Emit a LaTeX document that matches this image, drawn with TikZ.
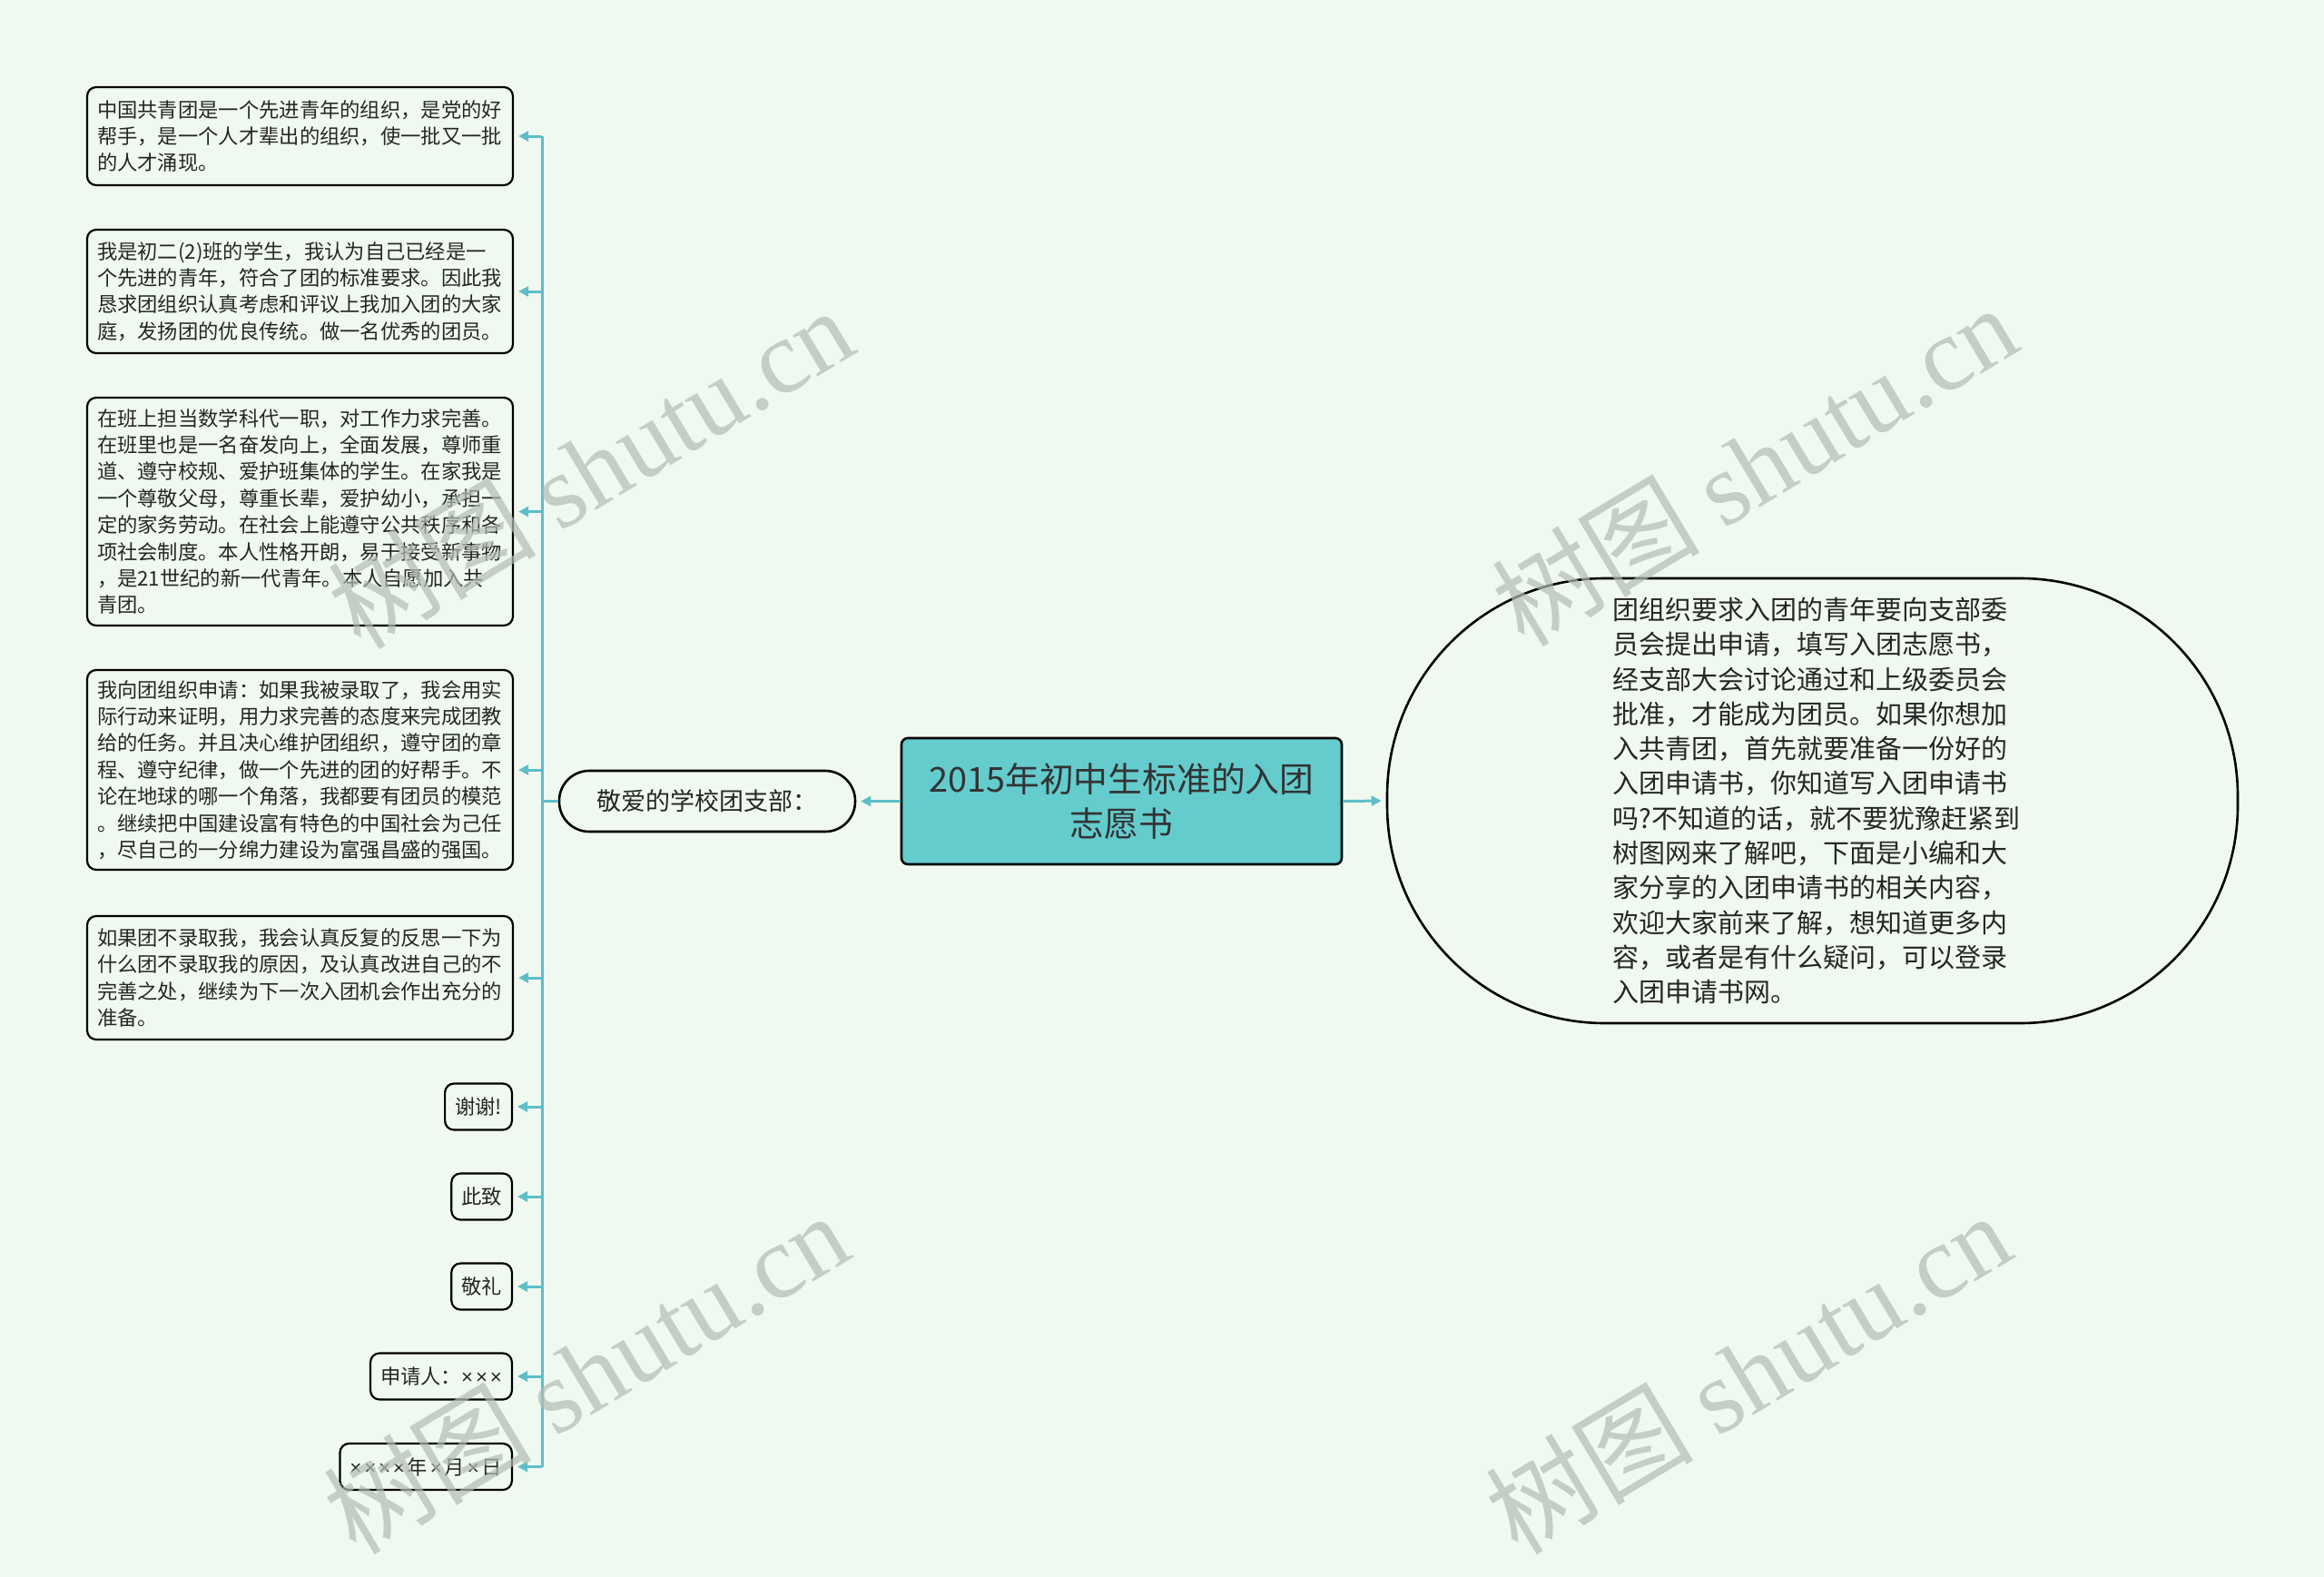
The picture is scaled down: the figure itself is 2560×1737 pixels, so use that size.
\documentclass[tikz,border=0pt]{standalone}
\usepackage{fontspec}
\setmainfont{Noto Sans CJK SC}
\newfontfamily\wmfont{Liberation Serif}
\newfontfamily\xfont{Liberation Sans}
\newcommand{\mulx}{{\xfont ×}}
\newcommand{\xgap}{\hspace{2.8pt}}
\usetikzlibrary{arrows.meta}
\definecolor{bgc}{HTML}{F0F9F0}
\definecolor{linec}{HTML}{5EBEC8}
\definecolor{rootc}{HTML}{64CCCD}
\definecolor{wmc}{HTML}{B2BCB5}
\tikzset{
  leafbox/.style={draw=black, line width=2.2pt, fill=bgc, rounded corners=10pt,
    align=left, text width=447pt, inner xsep=11pt, inner ysep=0pt,
    font=\fontsize{22.3}{29.4}\selectfont, text=black!85},
  smallbox/.style={draw=black, line width=2.2pt, fill=bgc, rounded corners=10pt,
    inner xsep=11pt, inner ysep=0pt, minimum height=51pt, anchor=east,
    font=\fontsize{22.3}{29.4}\selectfont, text=black!85},
  rootbox/.style={draw=black, line width=2.6pt, fill=rootc, rounded corners=7pt,
    align=center, minimum width=485pt, minimum height=139pt, inner sep=0pt,
    font=\fontsize{37.8}{49}\selectfont, text=black!80},
  dearbox/.style={draw=black, line width=2.6pt, fill=bgc, rounded corners=33pt,
    minimum width=326pt, minimum height=67pt, inner sep=0pt,
    font=\fontsize{27}{32}\selectfont, text=black!85},
  introbox/.style={draw=black, line width=2.6pt, fill=bgc, rounded corners=240pt,
    minimum width=937pt, minimum height=490pt, inner sep=0pt, align=left,
    text width=440pt, font=\fontsize{29}{38.3}\selectfont, text=black!85},
  conn/.style={draw=linec, line width=3pt, -{Triangle[length=11pt,width=11pt]}, shorten >=5pt},
  connline/.style={draw=linec, line width=3pt},
  wm/.style={text=wmc, opacity=0.7, rotate=31, font=\fontsize{115}{115}\selectfont}
}
\begin{document}
\begin{tikzpicture}[x=1pt,y=-1pt]
\fill[bgc] (0,0) rectangle (2560,1737);
\useasboundingbox (0,0) rectangle (2560,1737);

\node[rootbox] (root) at (1235.5,882.5) {2015年初中生标准的入团\\志愿书};
\node[dearbox] (dear) at (779,882.5) {敬爱的学校团支部：};
\node[introbox] (intro) at (1996.5,882) {团组织要求入团的青年要向支部委\\员会提出申请，填写入团志愿书，\\经支部大会讨论通过和上级委员会\\批准，才能成为团员。如果你想加\\入共青团，首先就要准备一份好的\\入团申请书，你知道写入团申请书\\吗?不知道的话，就不要犹豫赶紧到\\树图网来了解吧，下面是小编和大\\家分享的入团申请书的相关内容，\\欢迎大家前来了解，想知道更多内\\容，或者是有什么疑问，可以登录\\入团申请书网。};

\node[leafbox, minimum height=108pt] (n1) at (330.5,150) {中国共青团是一个先进青年的组织，是党的好\\帮手，是一个人才辈出的组织，使一批又一批\\的人才涌现。};
\node[leafbox, minimum height=136pt] (n2) at (330.5,321) {我是初二(2)班的学生，我认为自己已经是一\\个先进的青年，符合了团的标准要求。因此我\\恳求团组织认真考虑和评议上我加入团的大家\\庭，发扬团的优良传统。做一名优秀的团员。};
\node[leafbox, minimum height=251pt] (n3) at (330.5,563.5) {在班上担当数学科代一职，对工作力求完善。\\在班里也是一名奋发向上，全面发展，尊师重\\道、遵守校规、爱护班集体的学生。在家我是\\一个尊敬父母，尊重长辈，爱护幼小，承担一\\定的家务劳动。在社会上能遵守公共秩序和各\\项社会制度。本人性格开朗，易于接受新事物\\，是21世纪的新一代青年。本人自愿加入共\\青团。};
\node[leafbox, minimum height=220pt] (n4) at (330.5,848) {我向团组织申请：如果我被录取了，我会用实\\际行动来证明，用力求完善的态度来完成团教\\给的任务。并且决心维护团组织，遵守团的章\\程、遵守纪律，做一个先进的团的好帮手。不\\论在地球的哪一个角落，我都要有团员的模范\\。继续把中国建设富有特色的中国社会为己任\\，尽自己的一分绵力建设为富强昌盛的强国。};
\node[leafbox, minimum height=136pt] (n5) at (330.5,1077) {如果团不录取我，我会认真反复的反思一下为\\什么团不录取我的原因，及认真改进自己的不\\完善之处，继续为下一次入团机会作出充分的\\准备。};
\node[smallbox] (n6) at (565,1219) {谢谢!};
\node[smallbox] (n7) at (565,1318) {此致};
\node[smallbox] (n8) at (565,1417) {敬礼};
\node[smallbox] (n9) at (565,1516) {申请人：\mulx\xgap\mulx\xgap\mulx};
\node[smallbox] (n10) at (565,1615.5) {\mulx\xgap\mulx\xgap\mulx\xgap\mulx\xgap 年\xgap\mulx\xgap 月\xgap\mulx\xgap 日};

\coordinate (bus) at (597,882.5);

\draw[conn] (root.west) -- (dear.east);
\draw[conn] (root.east) -- (intro.west);
\draw[connline] (dear.west) -- (bus);
\draw[connline] (bus |- n1.east) -- (bus |- n10.east);
\foreach \n in {n1,n2,n3,n4,n5,n6,n7,n8,n9,n10}{
  \draw[conn] (bus |- \n.east) -- (\n.east);
}

\node[wm] (wm1) at (650,515) {树图 {\wmfont shutu.cn}};
\node[wm] (wm2) at (1932,512) {树图 {\wmfont shutu.cn}};
\node[wm] (wm3) at (645,1512) {树图 {\wmfont shutu.cn}};
\node[wm] (wm4) at (1925,1512) {树图 {\wmfont shutu.cn}};
\end{tikzpicture}
\end{document}
